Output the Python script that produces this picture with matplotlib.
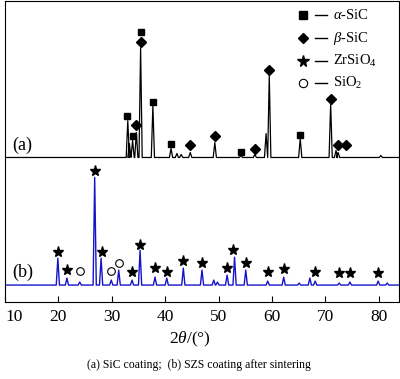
import matplotlib.pyplot as plt

plt.rcParams['font.family'] = ['Liberation Serif', 'DejaVu Serif']
plt.rcParams['mathtext.fontset'] = 'custom'
plt.rcParams['mathtext.rm'] = 'Liberation Serif'
plt.rcParams['mathtext.it'] = 'Liberation Serif:italic'

# peak positions (2theta) and peak tops
base_a = 145
peak_pos_a = [33.0, 33.3, 33.9, 34.6, 35.4, 37.7, 41.1, 42.2, 43.0, 44.7, 49.3,
              54.2, 56.8, 58.9, 59.5, 65.3, 71.0, 72.0, 72.4, 80.4]
peak_top_a = [182, 159, 162, 170, 255, 197, 154, 149, 148, 150, 160,
              147, 148, 169, 227, 164, 199, 152, 150, 147]

base_b = 17
peak_pos_b = [19.9, 21.6, 24.0, 26.8, 28.0, 29.9, 31.3, 33.8, 35.3, 38.1, 40.3,
              43.4, 46.9, 49.1, 49.8, 51.6, 53.0, 55.1, 59.2, 62.2, 65.1, 67.1,
              68.1, 72.6, 74.6, 79.9, 81.6]
peak_top_b = [44, 24, 20, 125, 44, 22, 32, 22, 52, 25, 24,
              34, 32, 22, 20, 27, 45, 32, 21, 25, 19, 24,
              21, 19, 20, 21, 19]

# phase markers
sq_x = [35.4, 32.9, 34.0, 37.7, 41.1, 54.2, 65.3]
sq_y = [271, 187, 167, 201, 159, 151, 168]
di_x = [35.4, 34.5, 44.7, 49.3, 56.8, 59.5, 71.0, 72.3, 73.8]
di_y = [261, 178, 158, 167, 154, 233, 204, 158, 158]
st_x = [19.9, 21.6, 26.8, 28.2, 33.8, 35.3, 38.1, 40.3, 43.3, 46.9, 51.6,
        52.8, 55.1, 59.2, 62.2, 68.1, 72.5, 74.6, 79.9]
st_y = [50, 32, 131, 50, 30, 57, 34, 30, 41, 39, 34,
        52, 39, 30, 33, 30, 29, 29, 29]
ci_x = [24.0, 29.9, 31.3]
ci_y = [31, 31, 39]

legend_labels = [r'$\alpha$-SiC', r'$\beta$-SiC', r'ZrSiO$_4$', r'SiO$_2$']

xmin, xmax = 10.2, 83.8


def trace(pos, top, base, w=0.3):
    xs, ys = [xmin], [base]
    for p, t in zip(pos, top):
        xs += [p - w, p, p + w]
        ys += [base, t, base]
    xs.append(xmax)
    ys.append(base)
    return xs, ys


fig = plt.figure(figsize=(4.0, 3.79), dpi=100)
ax = fig.add_axes([5 / 400, 77 / 379, 394 / 400, 301 / 379])

xa, ya = trace(peak_pos_a, peak_top_a, base_a)
xb, yb = trace(peak_pos_b, peak_top_b, base_b)
ax.plot(xa, ya, color='black', lw=0.9)
ax.plot(xb, yb, color='#1414c8', lw=1.0)

ax.plot(sq_x, sq_y, 's', color='black', ms=5, ls='none')
ax.plot(di_x, di_y, 'D', color='black', ms=5, ls='none')
ax.plot(st_x, st_y, '*', color='black', ms=8, ls='none')
ax.plot(ci_x, ci_y, 'o', mfc='none', mec='black', mew=0.8, ms=5.5, ls='none')

# legend drawn by hand: marker, short dash, label
leg_markers = [dict(marker='s', ms=5.5, color='black'),
               dict(marker='D', ms=5.5, color='black'),
               dict(marker='*', ms=8.5, color='black'),
               dict(marker='o', ms=6, mfc='none', mec='black', mew=0.8)]
leg_rows = [0.954, 0.877, 0.801, 0.728]
for mk, lab, yy in zip(leg_markers, legend_labels, leg_rows):
    ax.plot([0.756], [yy], transform=ax.transAxes, ls='none', clip_on=False, **mk)
    ax.plot([0.787, 0.817], [yy, yy], transform=ax.transAxes, color='black', lw=1.0)
    ax.text(0.832, yy, lab, transform=ax.transAxes, fontsize=10.5, va='center', ha='left')

ax.text(0.018, 0.52, '(a)', transform=ax.transAxes, fontsize=13, va='center')
ax.text(0.018, 0.097, '(b)', transform=ax.transAxes, fontsize=13, va='center')

ax.set_xlim(xmin, xmax)
ax.set_ylim(0, 302)
ax.set_xticks([10, 20, 30, 40, 50, 60, 70, 80])
ax.set_yticks([])
ax.tick_params(axis='x', direction='in', length=4, width=0.8, labelsize=12.5, pad=5)
ax.get_xticklabels()[0].set_horizontalalignment('left')
for s in ax.spines.values():
    s.set_linewidth(0.8)

fig.text(190 / 400, 1 - 339 / 379, r'$\mathit{2\theta}$/(°)', fontsize=12.5, ha='center', va='center')
fig.text(199 / 400, 1 - 365 / 379, '(a) SiC coating;  (b) SZS coating after sintering',
         fontsize=8.5, ha='center', va='center')

plt.savefig('out.png', dpi=100)
